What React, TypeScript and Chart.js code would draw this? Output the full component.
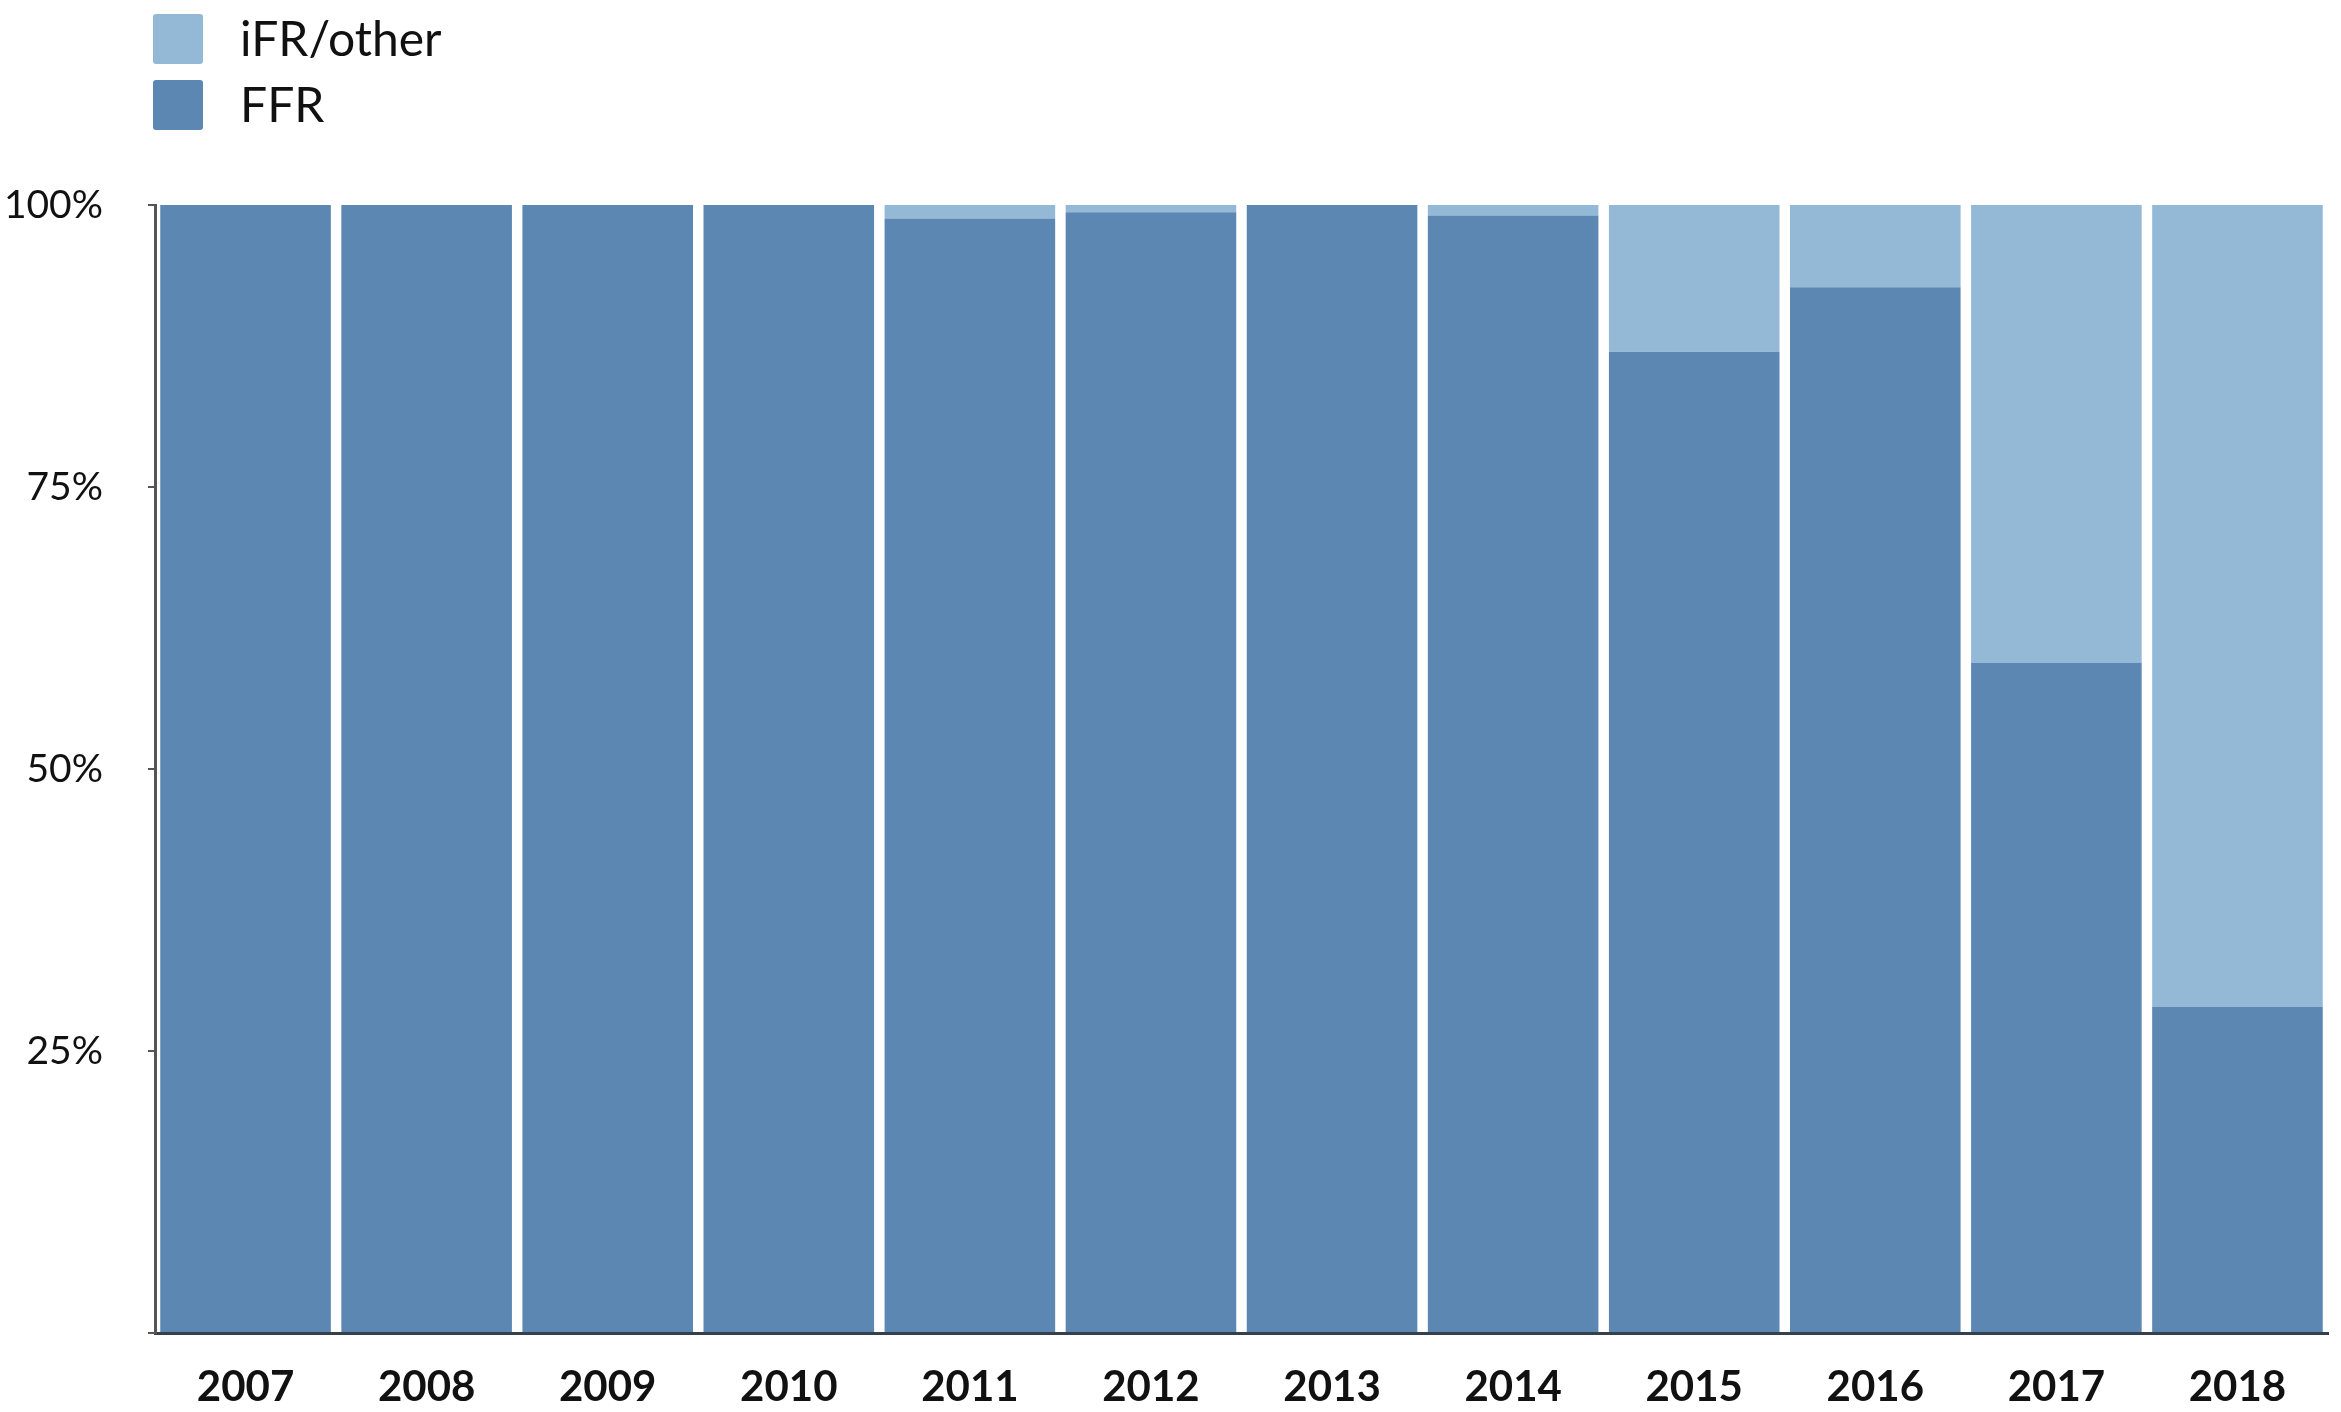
import React, { useEffect, useRef } from 'react';
import { Chart, registerables } from 'chart.js';

Chart.register(...registerables);

const years = ['2007', '2008', '2009', '2010', '2011', '2012', '2013', '2014', '2015', '2016', '2017', '2018'];
const ffrShare = [100, 100, 100, 100, 98.8, 99.35, 100, 99.06, 87.0, 92.7, 59.4, 28.9];
const ifrShare = [0, 0, 0, 0, 1.2, 0.65, 0, 0.94, 13.0, 7.3, 40.6, 71.1];
const seriesLabels = ['FFR', 'iFR/other'];
const seriesColors = ['#5b87b2', '#93b9d7'];
const yTickStep = 25;

const W = 2341;
const H = 1412;

const legendPlugin = {
  id: 'stackLegend',
  afterDraw(chart: any) {
    const ctx = chart.ctx as CanvasRenderingContext2D;
    const ds = chart.data.datasets.slice().reverse();
    ctx.save();
    ds.forEach((d: any, i: number) => {
      const bx = 153;
      const by = 14 + i * 66;
      const size = 50;
      ctx.fillStyle = d.backgroundColor;
      ctx.beginPath();
      (ctx as any).roundRect(bx, by, size, size, 3);
      ctx.fill();
      ctx.fillStyle = '#111';
      ctx.font = '48px Lato, "Open Sans", sans-serif';
      ctx.textAlign = 'left';
      ctx.textBaseline = 'alphabetic';
      ctx.fillText(d.label, 240, by + size / 2 + 17);
    });
    ctx.restore();
  },
};

export default function App() {
  const ref = useRef<HTMLCanvasElement | null>(null);

  useEffect(() => {
    document.body.style.margin = '0';
    const canvas = ref.current;
    if (!canvas) return;
    const chart = new Chart(canvas, {
      type: 'bar',
      data: {
        labels: years,
        datasets: [
          {
            label: seriesLabels[0],
            data: ffrShare,
            backgroundColor: seriesColors[0],
            borderWidth: 0,
            barPercentage: 0.942,
            categoryPercentage: 1,
          },
          {
            label: seriesLabels[1],
            data: ifrShare,
            backgroundColor: seriesColors[1],
            borderWidth: 0,
            barPercentage: 0.942,
            categoryPercentage: 1,
          },
        ],
      },
      options: {
        responsive: false,
        animation: false,
        devicePixelRatio: 1,
        layout: { padding: { top: 205, right: 13, left: 0, bottom: 0 } },
        plugins: {
          legend: { display: false },
          tooltip: { enabled: false },
        },
        scales: {
          x: {
            stacked: true,
            z: 1,
            grid: { display: false },
            border: { display: true, color: '#34404c', width: 3 },
            ticks: {
              color: '#111',
              padding: 21,
              font: { family: 'Lato, "Open Sans", sans-serif', size: 42, weight: 'bold' },
              maxRotation: 0,
              autoSkip: false,
            },
            afterFit: (scale: any) => {
              scale.height = H - 1333;
            },
          },
          y: {
            stacked: true,
            min: 0,
            max: 100,
            z: 1,
            grid: {
              display: true,
              drawOnChartArea: false,
              drawTicks: true,
              tickLength: 7,
              color: '#555',
              lineWidth: 2,
            },
            border: { display: true, color: '#555', width: 3 },
            ticks: {
              stepSize: yTickStep,
              color: '#111',
              padding: 45,
              font: { family: 'Lato, "Open Sans", sans-serif', size: 39 },
              callback: (v: any) => (Number(v) === 0 ? '' : `${v}%`),
            },
            afterFit: (scale: any) => {
              scale.width = 155;
            },
          },
        },
      },
      plugins: [legendPlugin],
    });
    return () => chart.destroy();
  }, []);

  return (
    <div style={{ position: 'absolute', left: 0, top: 0, width: W, height: H, background: '#fff' }}>
      <canvas ref={ref} width={W} height={H} style={{ display: 'block', width: W, height: H }} />
    </div>
  );
}
